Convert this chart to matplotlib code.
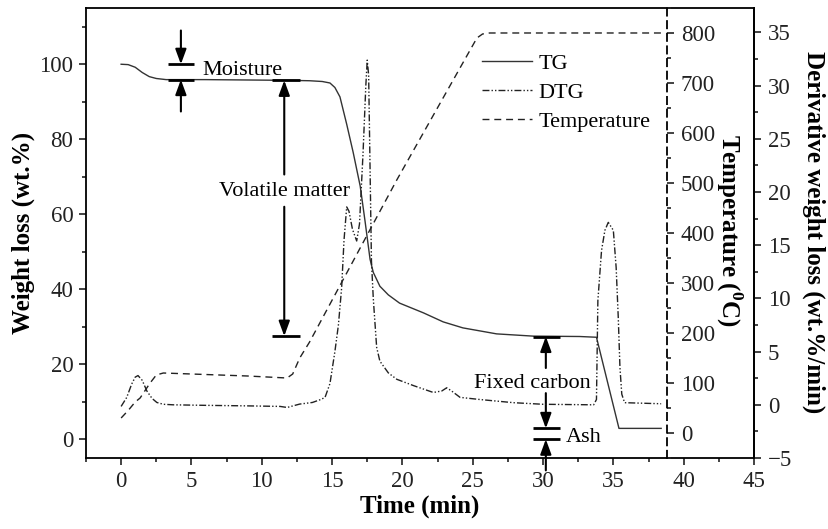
import matplotlib.pyplot as plt
from matplotlib.ticker import MultipleLocator

plt.rcParams['font.family'] = 'Liberation Serif'
plt.rcParams['mathtext.fontset'] = 'custom'
plt.rcParams['mathtext.rm'] = 'Liberation Serif'
plt.rcParams['mathtext.bf'] = 'Liberation Serif:bold'

# --- data ---
# TG curve (wt.%)
tg_time = [0, 0.5, 1.0, 1.5, 2.0, 2.5, 3.2, 6, 9, 12, 13.4, 14.3, 14.85, 15.2,
           15.56, 16.04, 16.5, 17.0, 17.35, 17.7, 17.93, 18.4, 19.0, 19.8, 21.5,
           22.9, 24.3, 26.7, 29.3, 32.6, 33.8, 35.4, 38.4]
tg_wt = [100, 99.9, 99.2, 97.8, 96.7, 96.2, 95.9, 95.9, 95.8, 95.7, 95.6, 95.4,
         95.0, 93.8, 91.3, 84.0, 76.5, 67.5, 58.0, 48.0, 44.5, 40.8, 38.5, 36.3,
         33.7, 31.3, 29.7, 28.1, 27.5, 27.4, 27.2, 2.9, 2.9]

# DTG curve (wt.%/min)
dtg_time = [0, 0.4, 0.75, 1.0, 1.2, 1.5, 1.83, 2.2, 2.54, 3.0, 3.7, 6, 9, 11.3,
            11.8, 12.7, 13.6, 14.2, 14.5, 14.85, 15.2, 15.45, 15.68, 15.85, 16.04,
            16.2, 16.45, 16.75, 16.95, 17.2, 17.4, 17.5, 17.6, 17.7, 17.8, 17.93,
            18.17, 18.4, 19.0, 19.6, 20.8, 22.2, 22.8, 23.15, 23.5, 24.1, 25.5,
            27.9, 30.0, 33.6, 33.8, 33.9, 34.16, 34.4, 34.64, 35.0, 35.2, 35.35,
            35.47, 35.6, 35.8, 38.4]
dtg_val = [-0.15, 0.7, 1.95, 2.6, 2.75, 2.3, 1.3, 0.6, 0.22, 0.05, 0.0, -0.05,
           -0.1, -0.15, -0.25, 0.07, 0.22, 0.5, 0.7, 2.0, 5.0, 7.5, 11.0, 15.5,
           18.6, 18.2, 16.5, 15.4, 17.0, 23.6, 30.0, 32.4, 31.0, 22.3, 13.5, 10.0,
           5.4, 4.1, 3.0, 2.4, 1.8, 1.16, 1.3, 1.6, 1.3, 0.7, 0.5, 0.2, 0.05, 0.0,
           0.5, 9.8, 14.5, 16.4, 17.15, 16.4, 12.9, 8.2, 3.5, 1.0, 0.2, 0.1]

# furnace temperature (deg C)
temp_time = [0, 0.5, 1.0, 1.35, 2.06, 2.5, 3.0, 6, 9, 11.8, 12.2, 12.7, 13.4,
             19.6, 25.3, 25.7, 26.2, 38.4]
temp_val = [30, 45, 62, 70, 100, 116, 120, 117, 114, 110, 118, 150, 182,
            506, 790, 798, 800, 800]

fig = plt.figure(figsize=(8.29, 5.29), dpi=100)
ax = fig.add_axes([0.1037, 0.1342, 0.8058, 0.8507])
ax2 = ax.twinx()
ax3 = ax.twinx()

dtg_style = (0, (5, 1.5, 1, 1.5, 1, 1.5))
l1, = ax.plot(tg_time, tg_wt, color='#333333', lw=1.0, label='TG')
l2, = ax2.plot(dtg_time, dtg_val, color='#222222', lw=1.0, ls=dtg_style, label='DTG')
l3, = ax3.plot(temp_time, temp_val, color='#222222', lw=1.0, ls=(0, (5, 3.5)),
               label='Temperature')

ax.set_xlim(-2.5, 45)
ax.set_ylim(-5, 115)
ax2.set_ylim(-5, 37.3)
ax3.set_ylim(-50, 850)

ax.xaxis.set_major_locator(MultipleLocator(5))
ax.xaxis.set_minor_locator(MultipleLocator(2.5))
ax.yaxis.set_major_locator(MultipleLocator(20))
ax.yaxis.set_minor_locator(MultipleLocator(10))
ax2.yaxis.set_major_locator(MultipleLocator(5))
ax2.yaxis.set_minor_locator(MultipleLocator(2.5))
ax3.yaxis.set_major_locator(MultipleLocator(100))
ax3.yaxis.set_minor_locator(MultipleLocator(50))

for a in (ax, ax2, ax3):
    a.tick_params(which='major', direction='out', length=5, width=1.2,
                  labelsize=16.5, pad=4, color='#222222', labelcolor='#222222')
    a.tick_params(which='minor', direction='out', length=3, width=1.2,
                  color='#222222')
for s in ax.spines.values():
    s.set_linewidth(1.3)
for side in ('left', 'top', 'bottom'):
    ax2.spines[side].set_visible(False)
    ax3.spines[side].set_visible(False)
ax2.spines['right'].set_linewidth(1.3)
ax3.spines['right'].set_position(('data', 38.8))
ax3.spines['right'].set_linestyle((0, (4, 3)))
ax3.spines['right'].set_linewidth(1.3)
ax2.tick_params(axis='y', pad=5)
ax3.tick_params(axis='y', pad=5)

ax.set_xlabel('Time (min)', fontsize=18, fontweight='bold', labelpad=2)
ax.set_ylabel('Weight loss (wt.%)', fontsize=18, fontweight='bold', labelpad=3)
fig.text(0.880, 0.565, r'Temperature ($^\mathbf{0}$C)', fontsize=18,
         fontweight='bold', rotation=-90, ha='center', va='center')
fig.text(0.982, 0.561, 'Derivative weight loss (wt.%/min)', fontsize=18,
         fontweight='bold', rotation=-90, ha='center', va='center')

# --- annotations (moisture, volatile matter, fixed carbon, ash) ---
arrow = dict(arrowstyle='-|>,head_length=0.6,head_width=0.22', color='black',
             lw=1.5, mutation_scale=15, shrinkA=0, shrinkB=0)
bar_kw = dict(color='black', lw=2, solid_capstyle='butt', clip_on=False)

# moisture
ax.plot([3.3, 5.2], [100, 100], **bar_kw)
ax.plot([3.3, 5.2], [95.9, 95.9], **bar_kw)
ax.annotate('', xy=(4.25, 100), xytext=(4.25, 109), arrowprops=arrow)
ax.annotate('', xy=(4.25, 95.9), xytext=(4.25, 87.4), arrowprops=arrow)
ax.text(5.8, 98.2, 'Moisture', fontsize=16, ha='left', va='center')

# volatile matter
ax.plot([10.7, 12.7], [95.7, 95.7], **bar_kw)
ax.plot([10.7, 12.7], [27.5, 27.5], **bar_kw)
ax.annotate('', xy=(11.6, 95.7), xytext=(11.6, 70.6), arrowprops=arrow)
ax.annotate('', xy=(11.6, 27.5), xytext=(11.6, 62.0), arrowprops=arrow)
ax.text(11.65, 66.0, 'Volatile matter', fontsize=16, ha='center', va='center')

# fixed carbon
ax.plot([29.3, 31.2], [27.4, 27.4], **bar_kw)
ax.annotate('', xy=(30.2, 27.4), xytext=(30.2, 19.0), arrowprops=arrow)
ax.text(29.25, 15.0, 'Fixed carbon', fontsize=16, ha='center', va='center')
ax.annotate('', xy=(30.2, 2.9), xytext=(30.2, 12.3), arrowprops=arrow)

# ash
ax.plot([29.3, 31.2], [2.9, 2.9], **bar_kw)
ax.plot([29.3, 31.2], [0, 0], **bar_kw)
ax.annotate('', xy=(30.2, 0), xytext=(30.2, -8.3), arrowprops=arrow,
            annotation_clip=False)
ax.text(31.6, 0.6, 'Ash', fontsize=16, ha='left', va='center')

ax3.legend([l1, l2, l3], ['TG', 'DTG', 'Temperature'], loc='upper left',
           bbox_to_anchor=(482 / 829, 1 - 53 / 529), bbox_transform=fig.transFigure,
           frameon=False, fontsize=16, borderpad=0, borderaxespad=0,
           handlelength=2.25, handletextpad=0.3, labelspacing=0.38)

fig.savefig('out.png', dpi=100)
